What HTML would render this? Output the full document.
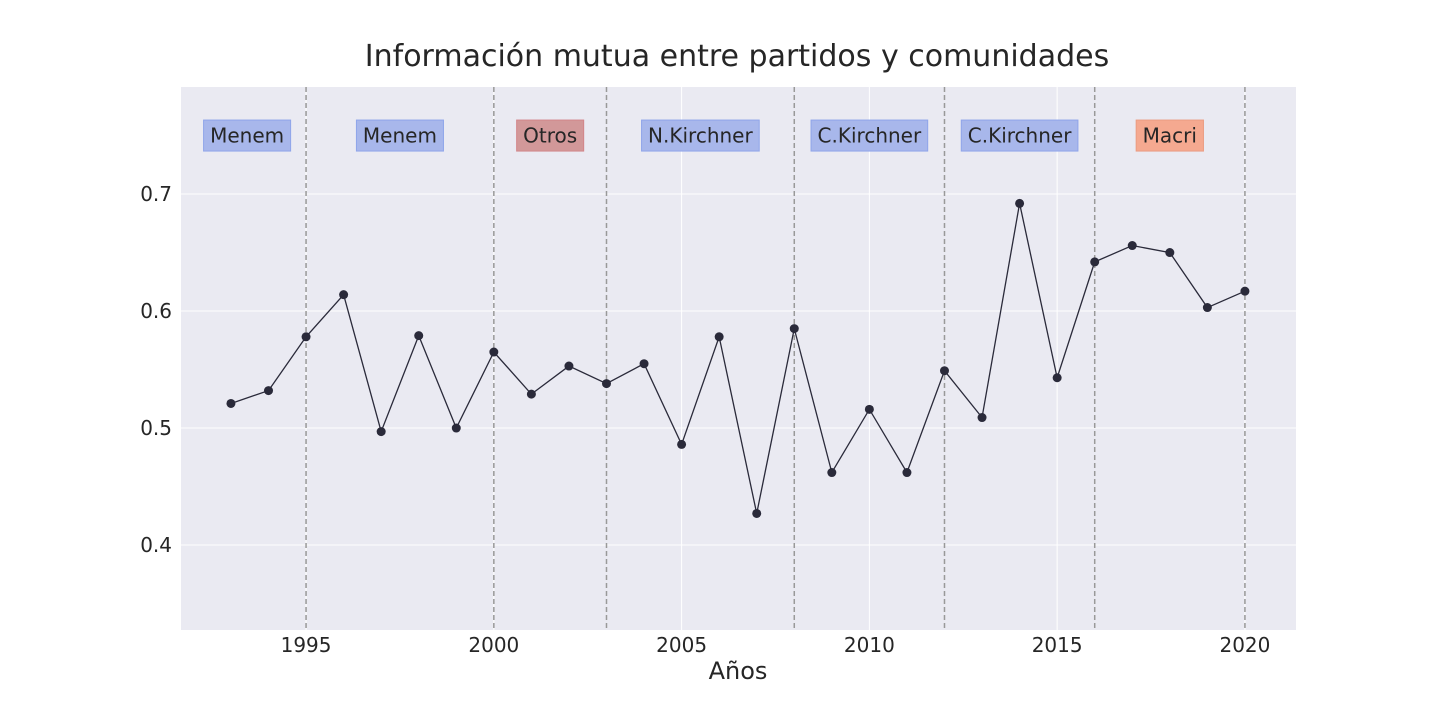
<!DOCTYPE html>
<html><head><meta charset="utf-8"><style>
html,body{margin:0;padding:0;background:#fff;}
svg{display:block;font-family:"DejaVu Sans","Liberation Sans",sans-serif;}
</style></head><body>
<svg id="chart" width="1440" height="720"></svg>
<script>
const years=[1993,1994,1995,1996,1997,1998,1999,2000,2001,2002,2003,2004,2005,2006,2007,2008,2009,2010,2011,2012,2013,2014,2015,2016,2017,2018,2019,2020];
const values=[0.521,0.532,0.578,0.614,0.497,0.579,0.500,0.565,0.529,0.553,0.538,0.555,0.486,0.578,0.427,0.585,0.462,0.516,0.462,0.549,0.509,0.692,0.543,0.642,0.656,0.650,0.603,0.617];
const xTicks=[1995,2000,2005,2010,2015,2020];
const yTicks=[0.4,0.5,0.6,0.7];
const periodLines=[1995,2000,2003,2008,2012,2016,2020];
const periodLabels=["Menem","Menem","Otros","N.Kirchner","C.Kirchner","C.Kirchner","Macri"];
const periodCenters=[1993.43,1997.5,2001.5,2005.5,2010,2014,2018];
const periodKinds=["pj","pj","otros","pj","pj","pj","macri"];

const NS="http://www.w3.org/2000/svg";
const svg=document.getElementById('chart');
const L=181,R=1296,T=87,B=630;
const xMin=1991.67,xMax=2021.36,yMin=0.3274,yMax=0.7915;
const xs=v=>L+(v-xMin)/(xMax-xMin)*(R-L);
const ys=v=>B-(v-yMin)/(yMax-yMin)*(B-T);
function mk(tag,attrs,parent){const e=document.createElementNS(NS,tag);for(const k in attrs)e.setAttribute(k,attrs[k]);(parent||svg).appendChild(e);return e;}

let bg=mk('rect',{x:L,y:T,width:R-L,height:B-T,fill:'#eaeaf2'});



xTicks.forEach(t=>{
  let g=mk('line',{x1:xs(t),x2:xs(t),y1:T,y2:B,stroke:'#fff','stroke-width':1});
  
  
  let tx=mk('text',{x:xs(t),y:652,'text-anchor':'middle','font-size':20,fill:'#262626'});
  tx.textContent=t;
  
  
});
yTicks.forEach(t=>{
  let g=mk('line',{x1:L,x2:R,y1:ys(t),y2:ys(t),stroke:'#fff','stroke-width':1});
  
  
  let tx=mk('text',{x:172,y:ys(t)+7,'text-anchor':'end','font-size':20,fill:'#262626'});
  tx.textContent=t.toFixed(1);
  
  
});
periodLines.forEach(p=>{
  let l=mk('line',{x1:xs(p),x2:xs(p),y1:T,y2:B,stroke:'#999','stroke-width':1.5,'stroke-dasharray':'5,3'});
  
  
});
const fills={pj:['#a8b7eb','#8fa5ea'],otros:['#d29899','#d2858a'],macri:['#f5a990','#eb9c82']};
periodLabels.forEach((lab,i)=>{
  const cx=xs(periodCenters[i]),cy=ys(0.75);
  const g=mk('g',{});
  
  
  const tx=mk('text',{x:cx,y:cy+7,'text-anchor':'middle','font-size':20,fill:'#262626'},g);
  tx.textContent=lab;
  const w=tx.getComputedTextLength()+13;
  const r=mk('rect',{x:cx-w/2,y:cy-15.5,width:w,height:31,fill:fills[periodKinds[i]][0],stroke:fills[periodKinds[i]][1],'stroke-width':1},g);
  g.insertBefore(r,tx);
});
let d=years.map((y,i)=>(i?'L':'M')+xs(y)+','+ys(values[i])).join(' ');
let line=mk('path',{d:d,fill:'none',stroke:'#2a2a3a','stroke-width':1.3});


years.forEach((y,i)=>{
  let c=mk('circle',{cx:xs(y),cy:ys(values[i]),r:4.5,fill:'#2a2a3a'});
  
  
});
let title=mk('text',{x:737,y:66,'text-anchor':'middle','font-size':30,fill:'#262626'});
title.textContent='Información mutua entre partidos y comunidades';


let xt=mk('text',{x:738,y:679,'text-anchor':'middle','font-size':24,fill:'#262626'});
xt.textContent='Años';


</script>
</body></html>
